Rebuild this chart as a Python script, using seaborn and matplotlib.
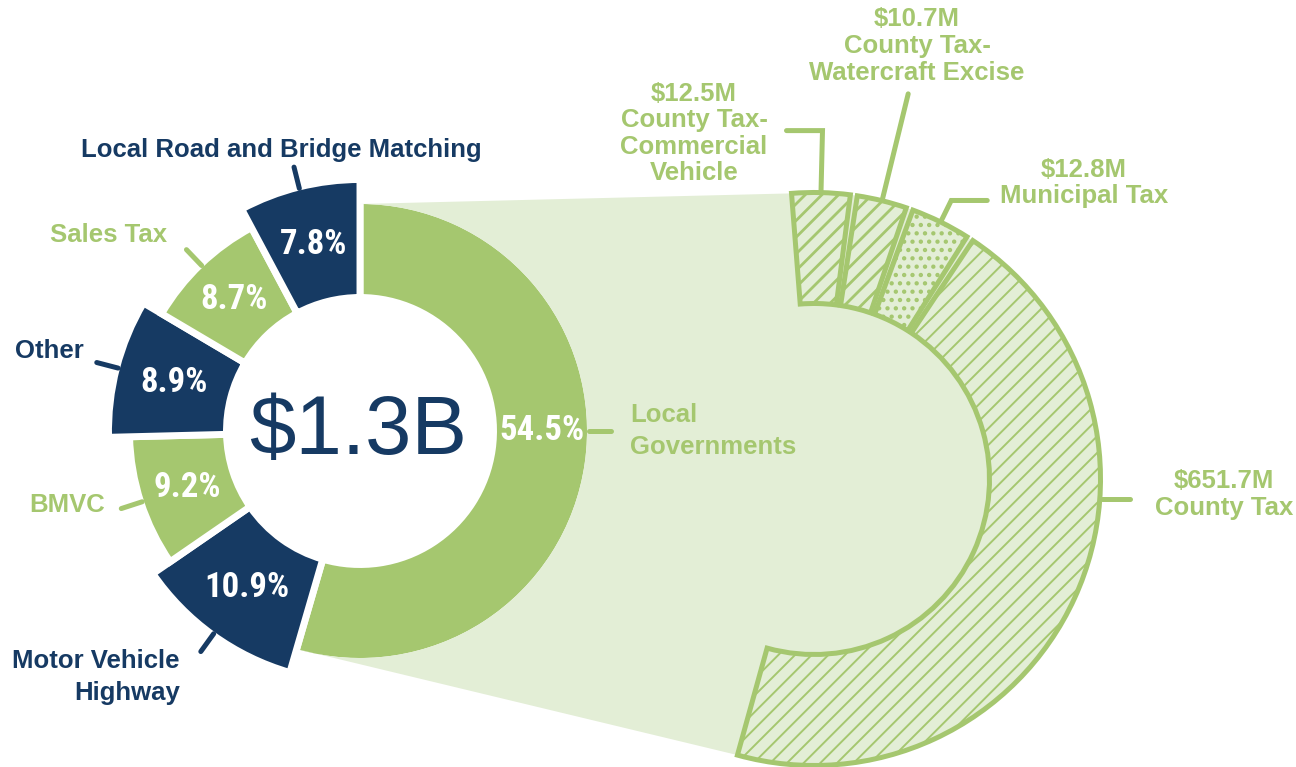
import numpy as np
import matplotlib.pyplot as plt
import seaborn as sns
from matplotlib import font_manager as fm

# --- DATA ---
total_label = "$1.3B"
share_names = ["Local\nGovernments", "Motor Vehicle\nHighway", "BMVC", "Other",
               "Sales Tax", "Local Road and Bridge Matching"]
share_pct = [54.5, 10.9, 9.2, 8.9, 8.7, 7.8]

local_names = ["County Tax-\nCommercial\nVehicle", "County Tax-\nWatercraft Excise",
               "Municipal Tax", "County Tax"]
local_musd = [12.5, 10.7, 12.8, 651.7]
local_hatch = ["//", "//", "..", "//"]
hatch_lw = [2.0, 2.0, 1.9, 1.4]

# --- STYLE ---
NAVY = "#163a63"
GREEN = "#a5c76f"
LIGHT = "#e3eed6"
W, H = 1296, 767

sns.set_style("white")
plt.rcParams["font.family"] = ["Liberation Sans", "DejaVu Sans"]
plt.rcParams["hatch.linewidth"] = 1.6

# percentages use a condensed face when one is installed
installed = {f.name for f in fm.fontManager.ttflist}
PCT_FONT, PCT_SIZE = ["Liberation Sans", "DejaVu Sans"], 21
for name, size in [("Roboto Condensed", 25), ("Liberation Sans Narrow", 25),
                   ("DejaVu Sans Condensed", 23)]:
    if name in installed:
        PCT_FONT, PCT_SIZE = [name, "DejaVu Sans"], size
        break

fig = plt.figure(figsize=(W / 100, H / 100), dpi=100)
ax = fig.add_axes([0, 0, 1, 1])


def up(y):
    # image row -> data y
    return H - y


def polar(c, r, deg):
    a = np.deg2rad(deg)
    return c[0] + r * np.cos(a), c[1] + r * np.sin(a)


# --- LEFT DONUT ---
LC = (360, up(431))
R_IN, R_GREEN, R_NAVY = 137, 227, 248
HALF_GAP = 3.5
colors = [GREEN if i % 2 == 0 else NAVY for i in range(len(share_pct))]
wedges, _ = ax.pie(share_pct, colors=colors, startangle=90, counterclock=False,
                   center=LC, radius=R_NAVY,
                   wedgeprops=dict(edgecolor="white", linewidth=5))
r_vis = []
for w, col in zip(wedges, colors):
    r = R_GREEN if col == GREEN else R_NAVY
    r_vis.append(r)
    w.set_radius(r + HALF_GAP)
    w.set_width(r + HALF_GAP - (R_IN - HALF_GAP))

# --- RIGHT RING (breakdown of local governments) ---
RC = (814, up(479))
RR_IN, RR_OUT = 175.5, 286.5
START, SPAN, GAP = 94.5, 200.0, 1.4
vals = np.array(local_musd)
boost = np.where(vals < 0.05 * vals.sum(), 3.8, 1.0)  # small slices enlarged for legibility
seg = vals * boost / (vals * boost).sum() * (SPAN - GAP * (len(vals) - 1)) / 360
fracs = []
for i, s in enumerate(seg):
    fracs.append(s)
    if i < len(seg) - 1:
        fracs.append(GAP / 360)
ring, _ = ax.pie(fracs, normalize=False, startangle=START, counterclock=False,
                 center=RC, radius=RR_OUT, wedgeprops=dict(width=RR_OUT - RR_IN))
for g in ring[1::2]:
    g.set_visible(False)
segs = ring[::2]
for s, h, hlw in zip(segs, local_hatch, hatch_lw):
    s.set(facecolor=LIGHT, edgecolor=GREEN, linewidth=3.6, hatch=h, zorder=3)
    if hasattr(s, "set_hatch_linewidth"):
        s.set_hatch_linewidth(hlw)

# light band linking the two
main = wedges[0]
t_l = np.linspace(main.theta2, main.theta1, 100)
t_r = np.linspace(START - SPAN, START, 150)
xl, yl = polar(LC, R_GREEN, t_l)
xr, yr = polar(RC, RR_OUT, t_r)
ax.fill(np.r_[xl, xr], np.r_[yl, yr], color=LIGHT, lw=0, zorder=2)

# --- LEFT LABELS ---
lab_pos = [(630, 431, "left"), (180, 677, "right"), (67, 505, "center"),
           (49, 351, "center"), (109, 235, "center"), (281, 150, "center")]
for i, (w, col, rv) in enumerate(zip(wedges, colors, r_vis)):
    mid = 0.0 if (w.theta2 - w.theta1) > 180 else (w.theta1 + w.theta2) / 2
    tx, ty = polar(LC, (R_IN + rv) / 2, mid)
    ax.text(tx, ty, f"{share_pct[i]:.1f}%", color="white", fontsize=PCT_SIZE,
            fontweight="bold", family=PCT_FONT, ha="center", va="center", zorder=5)
    x0, y0 = polar(LC, rv + 2, mid)
    x1, y1 = polar(LC, rv + 24, mid)
    ax.plot([x0, x1], [y0, y1], color=col, lw=3.6, solid_capstyle="round", zorder=4)
    px, py, ha = lab_pos[i]
    ax.text(px, up(py), share_names[i], color=col, fontsize=18.5, fontweight="bold",
            ha=ha, va="center", multialignment=ha, linespacing=1.38, zorder=5)

ax.text(358, up(432), total_label, color=NAVY, fontsize=60, ha="center", va="center",
        zorder=5)

# --- RIGHT LABELS ---
# (anchor angle or None for slice middle, radial leg length, horizontal leg)
legs = [(None, 60, -36), (None, 108, 0), (None, 22, 36), (-4.0, 0, 28)]
rlab_pos = [(694, 133.5), (917, 46), (1084, 183), (1224, 494.5)]
for s, (ang, rad, dx), (px, py), v, name in zip(segs, legs, rlab_pos, local_musd, local_names):
    a = (s.theta1 + s.theta2) / 2 if ang is None else ang
    x0, y0 = polar(RC, RR_OUT + 2, a)
    x1, y1 = polar(RC, RR_OUT + 2 + rad, a)
    ax.plot([x0, x1, x1 + dx], [y0, y1, y1], color=GREEN, lw=3.6,
            solid_capstyle="round", solid_joinstyle="miter", zorder=4)
    ax.text(px, up(py), f"${v:.1f}M\n{name}", color=GREEN, fontsize=18.5,
            fontweight="bold", ha="center", va="center", linespacing=1.14, zorder=5)

ax.set_xlim(0, W)
ax.set_ylim(0, H)
ax.set_aspect("equal")
ax.axis("off")
fig.savefig("out.png", dpi=100)
